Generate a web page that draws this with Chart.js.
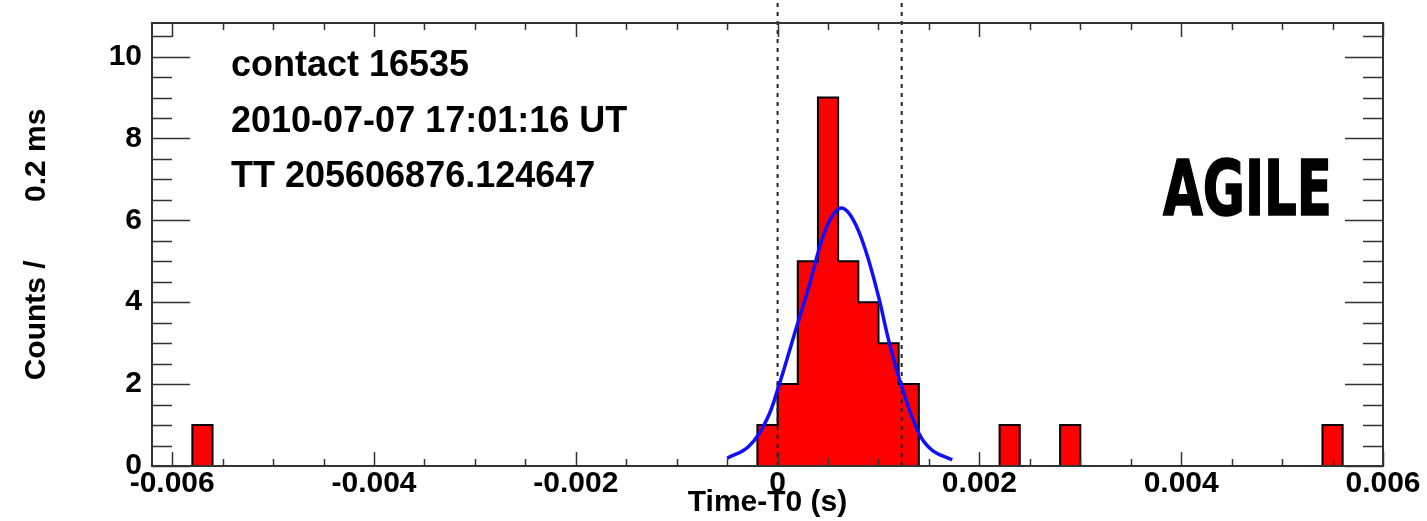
<!DOCTYPE html>
<html>
<head>
<meta charset="utf-8">
<script src="https://cdn.jsdelivr.net/npm/chart.js@4.4.0/dist/chart.umd.min.js"></script>
<style>
  html, body { margin: 0; padding: 0; background: #fff; }
</style>
</head>
<body>
<canvas id="chart1" width="1427" height="521"></canvas>
<script>

// histogram, 0.2 ms bins: lower edge of each filled bin and its count
var binLow = [-0.0058, -0.0002, 0.0, 0.0002, 0.0004, 0.0006, 0.0008, 0.0010, 0.0012, 0.0022, 0.0028, 0.0054];
var binCounts = [1, 1, 2, 5, 9, 5, 4, 3, 2, 1, 1, 1];
var binWidth = 0.0002;

// gaussian fit (blue)
var fitT = [-0.00050, -0.00029, -0.00011, 0.00001, 0.00018, 0.00031, 0.00044, 0.00054, 0.00064, 0.00075, 0.00087, 0.00100, 0.00110, 0.00123, 0.00140, 0.00153, 0.00173];
var fitCounts = [0.19, 0.47, 1.12, 1.94, 3.33, 4.38, 5.53, 6.10, 6.30, 6.01, 5.28, 4.14, 3.08, 1.94, 0.80, 0.39, 0.15];

// dashed marker lines
var markerT = [0, 0.00123];

var xTicks = [-0.006, -0.004, -0.002, 0, 0.002, 0.004, 0.006];
var yTicks = [0, 2, 4, 6, 8, 10];

var infoLines = ['contact 16535', '2010-07-07 17:01:16 UT', 'TT 205606876.124647'];

var fam = '"Liberation Sans", Arial, Helvetica, sans-serif';


function getHistPoints() {
  var pts = [];
  for (var i = 0; i < binLow.length; i++) {
    var neu = (i == 0) || Math.abs(binLow[i] - binLow[i-1] - binWidth) > 1e-9;
    if (neu) {
      if (i > 0) {
        pts.push({x: binLow[i-1] + binWidth, y: 0});
        pts.push({x: binLow[i-1] + binWidth, y: null});
      }
      pts.push({x: binLow[i], y: 0});
    }
    pts.push({x: binLow[i], y: binCounts[i]});
  }
  var last = binLow.length - 1;
  pts.push({x: binLow[last] + binWidth, y: 0});
  return pts;
}

function getFitPoints() {
  var pts = [];
  for (var i = 0; i < fitT.length; i++) {
    pts.push({x: fitT[i], y: fitCounts[i]});
  }
  return pts;
}


var frame = {
  id: 'frame',
  afterDatasetsDraw: function(chart) {
    var ctx = chart.ctx;
    var a = chart.chartArea;
    var xs = chart.scales.x;
    var ys = chart.scales.y;

    ctx.save();
    ctx.strokeStyle = '#333';
    ctx.lineWidth = 2;
    ctx.strokeRect(a.left, a.top, a.right - a.left, a.bottom - a.top);

    ctx.lineWidth = 1.5;
    ctx.beginPath();
    // y ticks, both sides, pointing inwards
    for (var k = 0; k * 0.5 <= ys.max; k++) {
      var py = Math.round(ys.getPixelForValue(k * 0.5)) + 0.5;
      var len = (k % 4 == 0) ? 38 : 20;
      ctx.moveTo(a.left, py); ctx.lineTo(a.left + len, py);
      ctx.moveTo(a.right, py); ctx.lineTo(a.right - len, py);
    }
    // x ticks, top and bottom
    for (var j = -12; j <= 12; j++) {
      var px = Math.round(xs.getPixelForValue(j * 0.0005)) + 0.5;
      var l2 = (j % 4 == 0) ? 14 : 7;
      ctx.moveTo(px, a.bottom); ctx.lineTo(px, a.bottom - l2);
      ctx.moveTo(px, a.top); ctx.lineTo(px, a.top + l2);
    }
    ctx.stroke();
    ctx.restore();
  },
  afterDraw: function(chart) {
    var ctx = chart.ctx;
    ctx.save();
    ctx.fillStyle = '#000';
    ctx.textBaseline = 'alphabetic';
    ctx.textAlign = 'left';
    ctx.font = 'bold 36px ' + fam;
    for (var i = 0; i < infoLines.length; i++) {
      ctx.fillText(infoLines[i], 231, 76 + i * 55.5);
    }

    // AGILE label, condensed heavy
    ctx.font = 'bold 76px "Liberation Sans Narrow", "DejaVu Sans Condensed", ' + fam;
    var w = ctx.measureText('AGILE').width;
    ctx.translate(1163, 215);
    ctx.scale(169 / w, 1);
    ctx.lineWidth = 1.5;
    ctx.strokeStyle = '#000';
    ctx.strokeText('AGILE', 0, 0);
    ctx.fillText('AGILE', 0, 0);
    ctx.restore();
  }
};


const ctx1 = document.getElementById('chart1').getContext('2d');
const chart1 = new Chart(ctx1, {
  type: 'line',
  data: {
    datasets: [
      {
        label: 'fit',
        data: getFitPoints(),
        borderColor: '#1010ff',
        borderWidth: 3.5,
        pointRadius: 0,
        tension: 0.4,
        fill: false,
        order: 0
      },
      {
        label: 'T0',
        data: [{x: markerT[0], y: 0}, {x: markerT[0], y: 11.35}],
        borderColor: '#222',
        borderWidth: 2,
        borderDash: [4, 5],
        pointRadius: 0,
        fill: false,
        clip: false,
        order: 1
      },
      {
        label: 'end',
        data: [{x: markerT[1], y: 0}, {x: markerT[1], y: 11.35}],
        borderColor: '#222',
        borderWidth: 2,
        borderDash: [4, 5],
        pointRadius: 0,
        fill: false,
        clip: false,
        order: 1
      },
      {
        label: 'counts',
        data: getHistPoints(),
        stepped: true,
        borderColor: '#000',
        borderWidth: 2,
        backgroundColor: '#ff0000',
        fill: 'origin',
        pointRadius: 0,
        spanGaps: false,
        order: 2
      }
    ]
  },
  options: {
    responsive: false,
    animation: false,
    devicePixelRatio: 1,
    layout: { padding: { left: 0, top: 23, right: 44, bottom: 0 } },
    plugins: {
      legend: { display: false },
      tooltip: { enabled: false }
    },
    scales: {
      x: {
        type: 'linear',
        min: -0.0062,
        max: 0.006,
        grid: { display: false, drawTicks: false },
        border: { display: false },
        afterBuildTicks: function(s) { s.ticks = xTicks.map(function(v) { return {value: v}; }); },
        afterFit: function(s) { s.height = 55; s.paddingLeft = 0; s.paddingRight = 0; },
        ticks: {
          autoSkip: false,
          maxRotation: 0,
          padding: 0,
          color: '#000',
          font: { family: fam, size: 30, weight: 'bold' },
          callback: function(v) { return v == 0 ? '0' : v.toFixed(3); }
        },
        title: {
          display: true,
          text: 'Time-T0 (s)',
          color: '#000',
          padding: { top: 0, bottom: 0 },
          font: { family: fam, size: 30, weight: 'bold', lineHeight: 1.2 }
        }
      },
      y: {
        min: 0,
        max: 10.82,
        grid: { display: false, drawTicks: false },
        border: { display: false },
        afterBuildTicks: function(s) { s.ticks = yTicks.map(function(v) { return {value: v}; }); },
        afterFit: function(s) { s.width = 152; s.paddingTop = 0; s.paddingBottom = 0; },
        ticks: {
          padding: 10,
          color: '#000',
          font: { family: fam, size: 30, weight: 'bold' }
        },
        title: {
          display: true,
          text: 'Counts /       0.2 ms',
          color: '#000',
          padding: { top: 19, bottom: 0 },
          font: { family: fam, size: 30, weight: 'bold', lineHeight: 1.2 }
        }
      }
    }
  },
  plugins: [frame]
});

</script>
</body>
</html>
